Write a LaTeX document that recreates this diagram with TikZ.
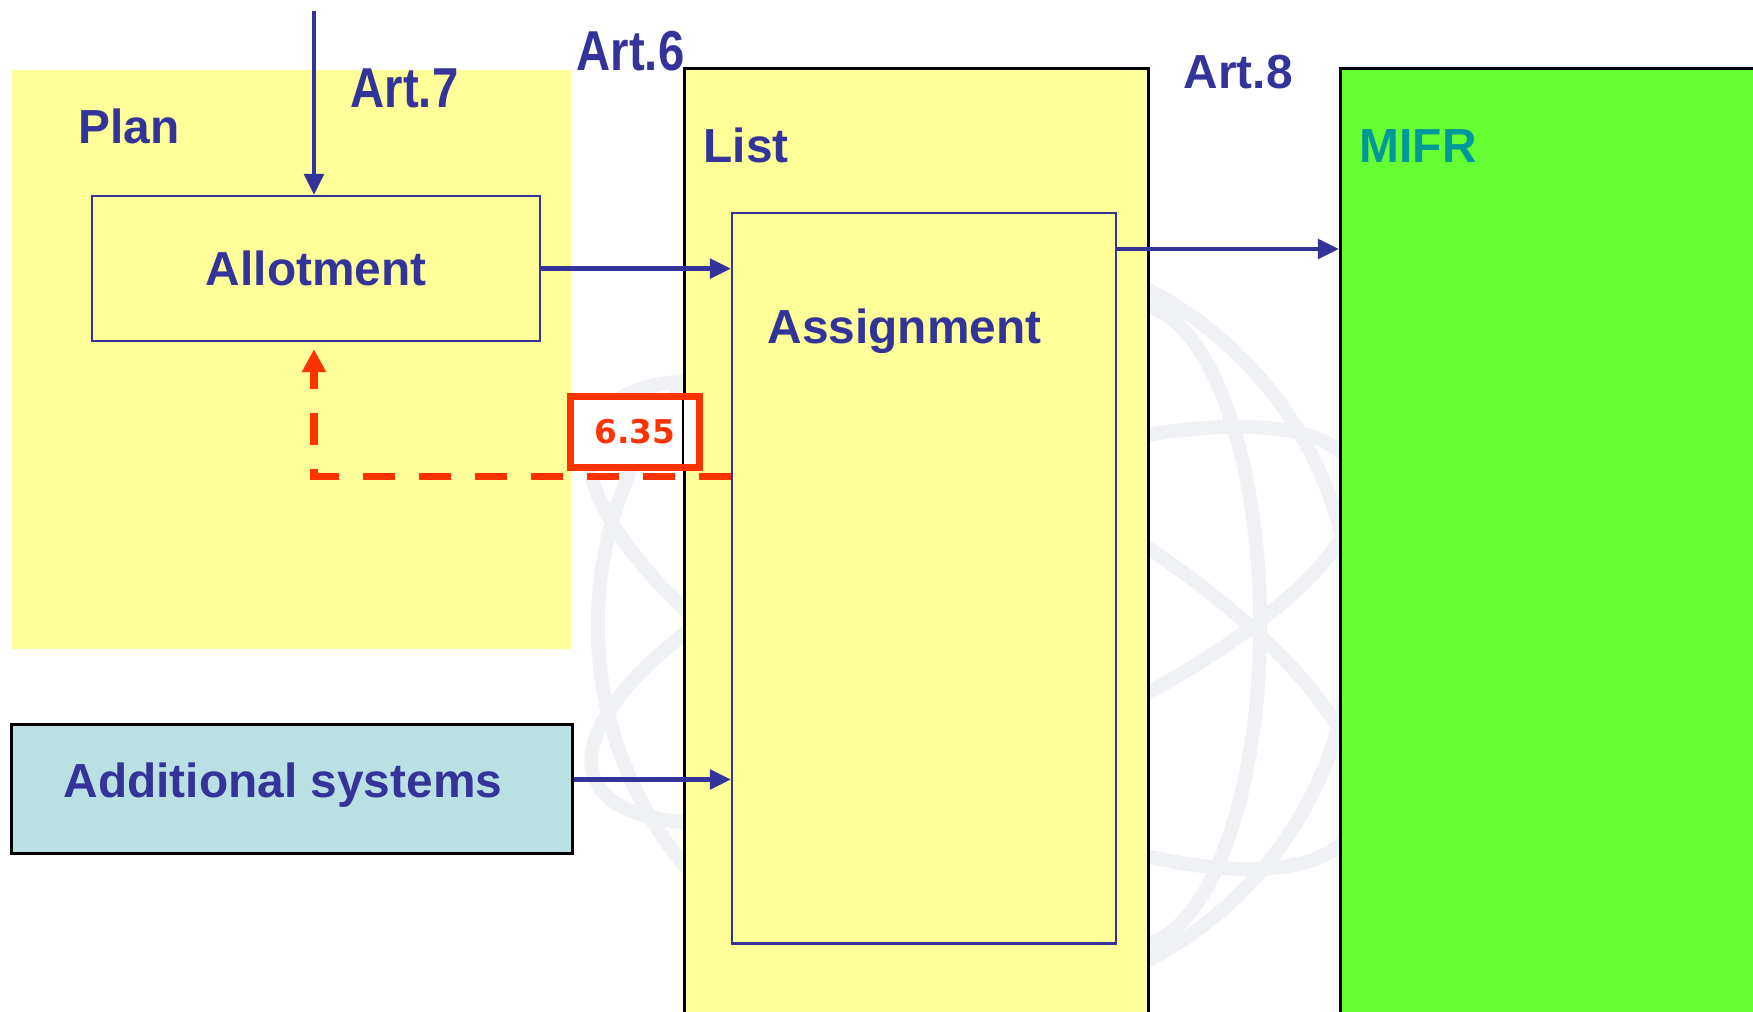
\documentclass[tikz,border=0pt]{standalone}
\usepackage{fontspec}
\setmainfont{Liberation Sans}
\newfontfamily\narrowsans[FakeStretch=0.84]{Liberation Sans}
\newfontfamily\numsans{DejaVu Sans}
\usepackage{xcolor}
\usetikzlibrary{arrows.meta,positioning,calc}
\definecolor{figyellow}{HTML}{FFFF99}
\definecolor{figblue}{HTML}{333399}
\definecolor{figgreen}{HTML}{66FF33}
\definecolor{figteal}{HTML}{009999}
\definecolor{figcyan}{HTML}{BAE0E3}
\definecolor{figred}{HTML}{FF3300}
\definecolor{figwater}{HTML}{F0F1F4}

\begin{document}
\begin{tikzpicture}[x=0.01cm,y=-0.01cm,
  panel/.style={draw=black, line width=0.8pt, inner sep=0pt, anchor=north west},
  inbox/.style={draw=figblue, line width=0.6pt, fill=figyellow, inner sep=0pt, anchor=north west},
  lbl/.style={text=figblue, font=\fontsize{13.6}{16}\selectfont\bfseries, inner sep=0pt, anchor=base west},
  artlbl/.style={text=figblue, font=\narrowsans\fontsize{16}{18}\selectfont\bfseries, inner sep=0pt, anchor=base west},
  flow/.style={-{Triangle[length=6pt,width=5.5pt]}, line width=1.3pt, draw=figblue},
  backlink/.style={-{Triangle[length=6.5pt,width=6.5pt]}, line width=2pt, draw=figred,
    dash pattern=on 0.32cm off 0.24cm, shorten >=0.07cm},
  numbox/.style={draw=figred, line width=2pt, fill=white, outer sep=0pt, inner sep=0pt,
    minimum width=1.29cm, minimum height=0.71cm, text=figred,
    font=\numsans\bfseries\fontsize{9.3}{11}\selectfont},
  wmark/.style={draw=figwater, line width=0.14cm}
]
\useasboundingbox (0,0) rectangle (1753,1011);
\clip (0,0) rectangle (1753,1011);

% faint globe in the back
\coordinate (globe) at (975,625);
\draw[wmark] (globe) circle (3.77cm);
\draw[wmark, rotate around={-28:(globe)}] (globe) ellipse (4.3cm and 1.55cm);
\draw[wmark, rotate around={22:(globe)}] (globe) ellipse (4.1cm and 1.35cm);
\draw[wmark] ([xshift=1.6cm]globe) ellipse (1.25cm and 3.2cm);

\node[fill=figyellow, inner sep=0pt, anchor=north west,
  minimum width=5.59cm, minimum height=5.79cm] (plan) at (11,69) {};
\node[panel, fill=figyellow, minimum width=4.64cm, minimum height=9.7cm] (list) at (683,67) {};
\node[panel, fill=figgreen, minimum width=4.4cm, minimum height=9.7cm] (mifr) at (1339,67) {};

\node[inbox, minimum width=4.48cm, minimum height=1.45cm,
  text=figblue, font=\fontsize{13.6}{16}\selectfont\bfseries] (allot) at (91,195) {Allotment};
\node[inbox, minimum width=3.84cm, minimum height=7.30cm] (assign) at (731,212) {};
\node[panel, fill=figcyan, minimum width=5.61cm, minimum height=1.29cm] (addsys) at (10,723) {};

\node[lbl] (planlbl) at (78,143) {Plan};
\node[artlbl] (art7) at (350,107) {Art.7};
\node[artlbl] (art6) at (576,70) {Art.6};
\node[lbl] (listlbl) at (703,162) {List};
\node[lbl] (assignlbl) at (767,343) {Assignment};
\node[lbl] (art8) at (1183,88) {Art.8};
\node[lbl, text=figteal] (mifrlbl) at (1359,162) {MIFR};
\node[lbl] (addlbl) at (63,797) {Additional systems};

\coordinate (feed) at (314,11);
\draw[flow] (feed) -- (feed |- allot.north);
\draw[flow] (allot.east) -- (allot.east -| assign.west);
\draw[flow] ([yshift=-0.37cm]assign.north east) coordinate (toreg) -- (toreg -| mifr.west);
\draw[flow] ([yshift=0.095cm]addsys.east) coordinate (addout) -- (addout -| assign.west);

\draw[backlink] ([yshift=-2.64cm]assign.north west) -| (feed |- allot.south);

\node[numbox] (art635) at (635,432) {6.35};
\draw[line width=0.8pt, shorten <=1pt, shorten >=1pt] (art635.north -| list.west) -- (art635.south -| list.west);
\end{tikzpicture}
\end{document}
